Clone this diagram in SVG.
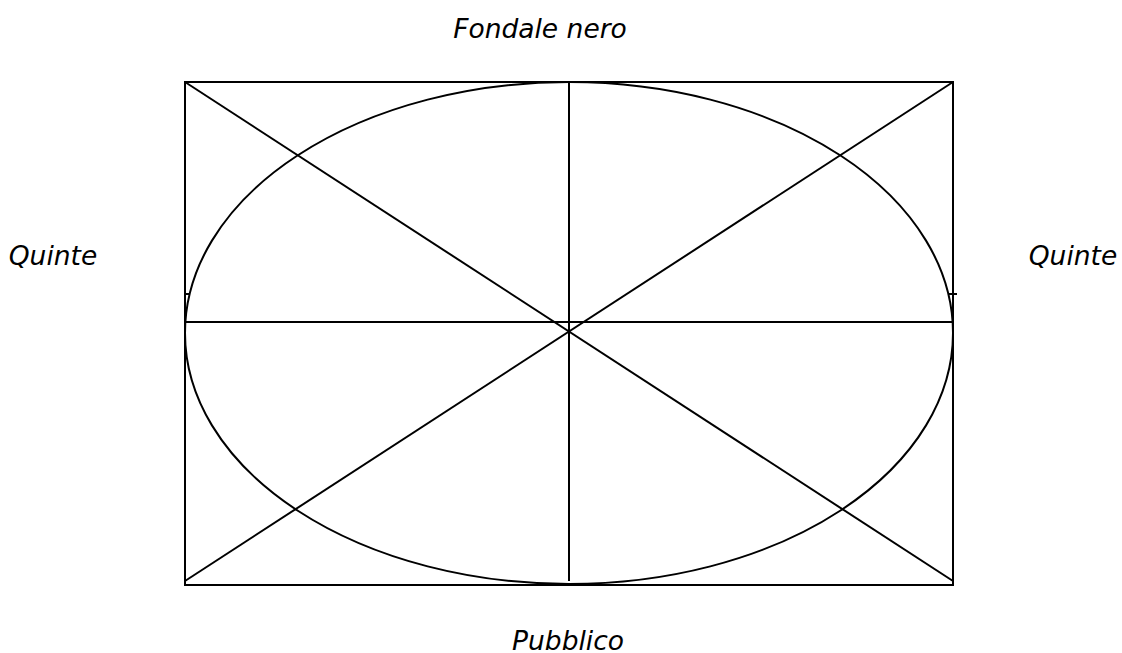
<svg xmlns="http://www.w3.org/2000/svg" width="1122" height="653" viewBox="0 0 1122 653">
<style>
.l{stroke:#000;stroke-width:2;fill:none}
.t{font-family:"DejaVu Sans",Verdana,sans-serif;font-style:italic;font-size:26.5px;fill:#000}
</style>
<rect width="1122" height="653" fill="#fff"/>
<g id="stage">
<rect class="l" x="185" y="82" width="768" height="503"/>
<ellipse class="l" cx="569" cy="333" rx="384" ry="251"/>
</g>
<g id="connectors">
<line class="l" x1="185" y1="322" x2="953" y2="322"/>
<line class="l" x1="569" y1="82" x2="569" y2="581"/>
<line class="l" x1="185" y1="82" x2="953" y2="581"/>
<line class="l" x1="953" y1="82" x2="185" y2="581"/>
<line class="l" x1="948" y1="294" x2="957" y2="294" stroke-width="1"/>
<line class="l" x1="186" y1="294" x2="190" y2="294" stroke-width="1"/>
</g>
<g id="labels">
<text class="t" x="540" y="38" text-anchor="middle">Fondale nero</text>
<text class="t" x="53" y="265" text-anchor="middle">Quinte</text>
<text class="t" x="1073" y="265" text-anchor="middle">Quinte</text>
<text class="t" x="568" y="650" text-anchor="middle">Pubblico</text>
</g>
</svg>
